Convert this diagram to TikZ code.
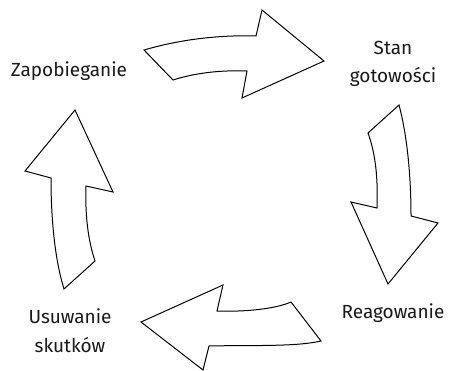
\documentclass[tikz,border=0pt]{standalone}
\usepackage{fontspec}
\setmainfont{Fira Sans}
\begin{document}
\begin{tikzpicture}[x=1pt,y=-1pt,
  cyclearrow/.style={draw=black,line width=1pt,fill=white,line join=miter},
  lbl/.style={font=\fontsize{19}{28.5}\selectfont,align=center,anchor=base,inner sep=0pt,text=black!90}]
\useasboundingbox (0,0) rectangle (449,371);
% top arrow
\draw[cyclearrow] (144,50) .. controls (185,38) and (225,35) .. (256,36)
  -- (262,10) -- (324,61) -- (242,98) -- (247,71)
  .. controls (220,70) and (195,73) .. (173,80) -- cycle;
% right arrow
\draw[cyclearrow] (399,105) -- (368,133) .. controls (376,155) and (378,180) .. (377,208)
  -- (351,202) -- (388,284) -- (438,223) -- (411,216)
  .. controls (411,175) and (407,135) .. cycle;
% bottom arrow
\draw[cyclearrow] (291,302) .. controls (275,309) and (245,312) .. (217,311)
  -- (223,285) -- (141,322) -- (203,370) -- (209,346)
  .. controls (250,345) and (295,347) .. (321,341) -- cycle;
% left arrow
\draw[cyclearrow] (64,289) .. controls (55,260) and (51,220) .. (51,178)
  -- (25,171) -- (75,110) -- (113,192) -- (86,186)
  .. controls (85,215) and (88,240) .. (95,261) -- cycle;
\node[lbl] (zap) at (69,77) {Zapobieganie};
\node[lbl] (stan) at (393,83) {Stan\\gotowości};
\node[lbl] (reag) at (393,318) {Reagowanie};
\node[lbl] (usuw) at (70,352) {Usuwanie\\skutków};
\end{tikzpicture}
\end{document}
